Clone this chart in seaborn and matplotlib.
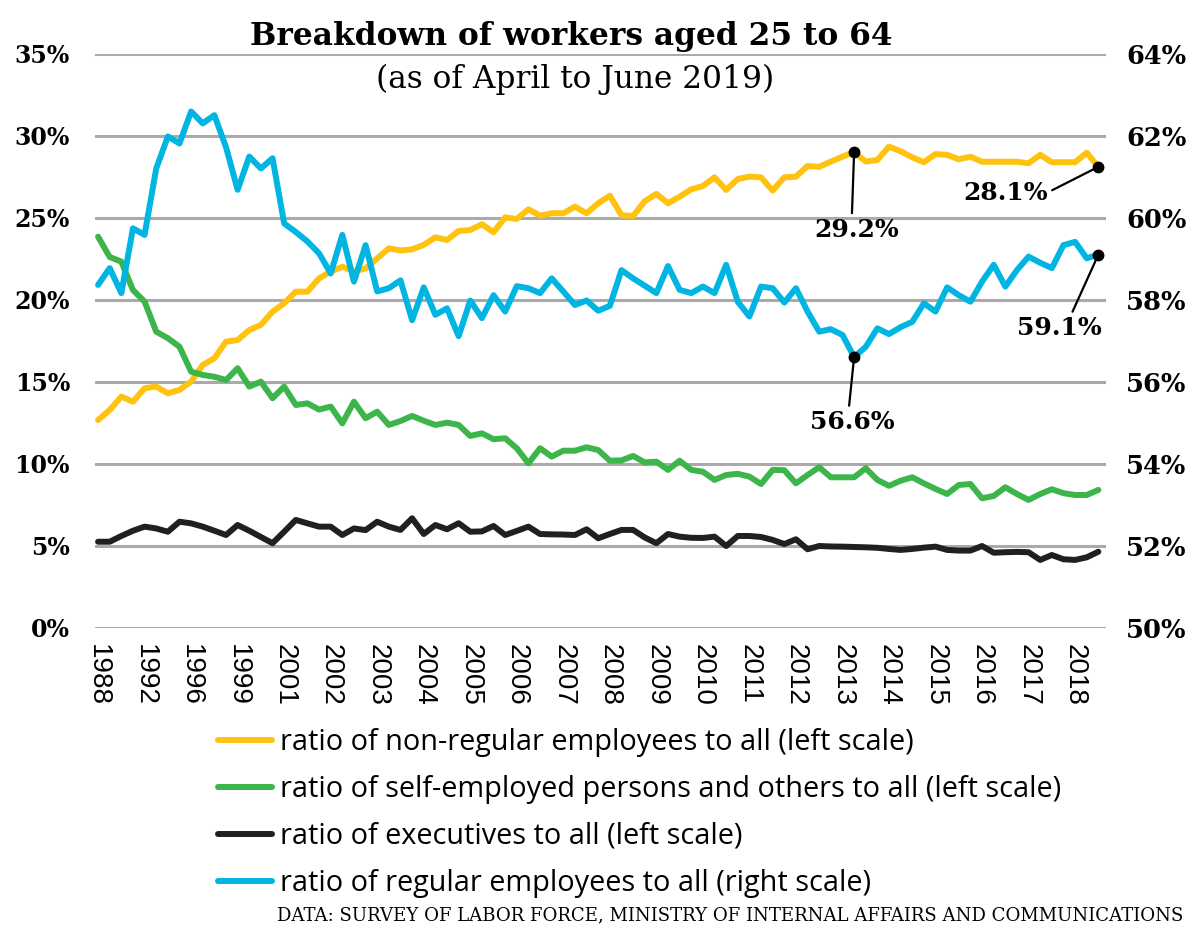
import numpy as np
import pandas as pd
import seaborn as sns
import matplotlib.pyplot as plt
from matplotlib.font_manager import FontProperties

# values, one point per survey period (87 points)
non_regular = [12.66, 13.27, 14.09, 13.78, 14.6, 14.7, 14.29, 14.5, 15.0, 16.02,
               16.43, 17.44, 17.54, 18.15, 18.46, 19.27, 19.78, 20.49, 20.49, 21.3,
               21.71, 22.01, 21.71, 21.91, 22.52, 23.13, 23.0, 23.07, 23.34, 23.8,
               23.64, 24.19, 24.25, 24.6, 24.11, 25.02, 24.92, 25.51, 25.12, 25.27,
               25.27, 25.67, 25.27, 25.88, 26.34, 25.15, 25.1, 26.0, 26.45, 25.88,
               26.28, 26.73, 26.93, 27.46, 26.69, 27.36, 27.5, 27.46, 26.65, 27.46,
               27.5, 28.15, 28.1, 28.42, 28.72, 29.0, 28.42, 28.52, 29.33, 29.05,
               28.68, 28.38, 28.88, 28.83, 28.56, 28.72, 28.41, 28.41, 28.41, 28.41,
               28.32, 28.83, 28.38, 28.38, 28.38, 28.96, 28.1]
self_employed = [23.84, 22.6, 22.32, 20.59, 19.88, 18.05, 17.65, 17.13, 15.61, 15.41,
                 15.3, 15.1, 15.82, 14.7, 15.0, 13.99, 14.7, 13.58, 13.68, 13.3,
                 13.48, 12.46, 13.78, 12.77, 13.17, 12.36, 12.6, 12.91, 12.62, 12.36,
                 12.5, 12.36, 11.69, 11.85, 11.49, 11.55, 10.94, 10.02, 10.94, 10.43,
                 10.79, 10.79, 11.0, 10.83, 10.18, 10.2, 10.47, 10.08, 10.12, 9.62,
                 10.18, 9.62, 9.51, 9.01, 9.31, 9.38, 9.21, 8.76, 9.62, 9.6,
                 8.8, 9.31, 9.78, 9.17, 9.17, 9.17, 9.72, 9.01, 8.65, 8.96,
                 9.17, 8.8, 8.46, 8.15, 8.7, 8.76, 7.89, 8.03, 8.56, 8.15,
                 7.79, 8.15, 8.44, 8.2, 8.09, 8.09, 8.4]
executives = [5.24, 5.24, 5.59, 5.91, 6.16, 6.05, 5.85, 6.46, 6.36, 6.16,
              5.91, 5.65, 6.26, 5.91, 5.53, 5.15, 5.85, 6.57, 6.36, 6.16,
              6.16, 5.65, 6.05, 5.95, 6.46, 6.16, 5.96, 6.67, 5.71, 6.26,
              6.0, 6.37, 5.85, 5.87, 6.2, 5.65, 5.9, 6.16, 5.71, 5.69,
              5.68, 5.65, 6.0, 5.45, 5.71, 5.96, 5.96, 5.5, 5.15, 5.71,
              5.55, 5.48, 5.47, 5.55, 4.98, 5.59, 5.59, 5.53, 5.35, 5.1,
              5.39, 4.78, 4.98, 4.95, 4.94, 4.92, 4.9, 4.87, 4.8, 4.74,
              4.8, 4.88, 4.94, 4.74, 4.7, 4.7, 4.98, 4.57, 4.6, 4.62,
              4.6, 4.13, 4.43, 4.17, 4.13, 4.29, 4.63]
regular = [58.36, 58.77, 58.16, 59.74, 59.58, 61.2, 61.98, 61.81, 62.59, 62.3,
           62.5, 61.72, 60.68, 61.49, 61.2, 61.45, 59.86, 59.65, 59.42, 59.13,
           58.64, 59.58, 58.44, 59.33, 58.2, 58.28, 58.47, 57.5, 58.3, 57.63,
           57.79, 57.11, 57.98, 57.55, 58.11, 57.71, 58.33, 58.28, 58.16, 58.52,
           58.2, 57.87, 57.98, 57.73, 57.85, 58.72, 58.52, 58.34, 58.16, 58.82,
           58.24, 58.16, 58.32, 58.16, 58.85, 57.95, 57.59, 58.32, 58.28, 57.93,
           58.28, 57.71, 57.22, 57.28, 57.14, 56.6, 56.85, 57.3, 57.16, 57.33,
           57.46, 57.91, 57.71, 58.3, 58.11, 57.95, 58.44, 58.85, 58.32, 58.72,
           59.05, 58.9, 58.77, 59.33, 59.41, 59.01, 59.1]

year_labels = ['1988', '1992', '1996', '1999', '2001', '2002', '2003', '2004',
               '2005', '2006', '2007', '2008', '2009', '2010', '2011', '2012',
               '2013', '2014', '2015', '2016', '2017', '2018']

series_names = ['ratio of non-regular employees to all (left scale)',
                'ratio of self-employed persons and others to all (left scale)',
                'ratio of executives to all (left scale)',
                'ratio of regular employees to all (right scale)']
colors = ['#fec20f', '#3cb54a', '#231f20', '#00b5e2']

df = pd.DataFrame({'period': np.arange(len(regular)),
                   'non_regular': non_regular,
                   'self_employed': self_employed,
                   'executives': executives,
                   'regular': regular})

sns.set_theme(style='white')
plt.rcParams['font.family'] = ['DejaVu Serif']
plt.rcParams['text.color'] = 'black'
plt.rcParams['xtick.color'] = 'black'
plt.rcParams['ytick.color'] = 'black'

fig = plt.figure(figsize=(12, 9.5), dpi=100)
ax = fig.add_axes([0.0792, 0.3393, 0.8425, 0.6042])
ax2 = ax.twinx()

lw = 4.3
left_cols = ['non_regular', 'self_employed', 'executives']
handles = []
for col, c in zip(left_cols, colors[:3]):
    sns.lineplot(data=df, x='period', y=col, ax=ax, color=c, linewidth=lw)
    handles.append(ax.lines[-1])
sns.lineplot(data=df, x='period', y='regular', ax=ax2, color=colors[3], linewidth=lw)
handles.append(ax2.lines[-1])

ax.set_ylim(0, 35)
ax2.set_ylim(50, 64)
ax.set_xlim(-0.26, len(regular) - 1 + 0.66)
ax.set_yticks(np.arange(0, 36, 5))
ax2.set_yticks(np.arange(50, 65, 2))
ax.set_yticklabels([f'{v}%' for v in range(0, 36, 5)])
ax2.set_yticklabels([f'{v}%' for v in range(50, 65, 2)])
ax.set_xticks(np.arange(0, 4 * len(year_labels), 4))
ax.set_xticklabels(year_labels, rotation=270, fontfamily='Liberation Sans',
                   fontsize=20, va='top', ha='center')

ax.yaxis.grid(True, color='#aaaaaa', linewidth=2.2)
ax.set_axisbelow(True)
for a in (ax, ax2):
    for s in a.spines.values():
        s.set_visible(False)
    a.set_xlabel('')
    a.set_ylabel('')
ax.tick_params(axis='y', length=0, pad=18, labelsize=17)
ax2.tick_params(axis='y', length=0, pad=14.5, labelsize=18.5)
ax.tick_params(axis='x', length=0, pad=12)
for lab in ax.get_yticklabels() + ax2.get_yticklabels():
    lab.set_fontweight('bold')

# callouts
last = len(regular) - 1
low = int(np.argmin(regular[40:])) + 40
notes = [(ax, low, non_regular[low], '29.2%', (2, -56), (0.44, 1.0)),
         (ax2, low, regular[low], '56.6%', (-1.5, -47), (0.46, 1.0)),
         (ax, last, non_regular[last], '28.1%', (-67, -18.5), (1.0, 0.5)),
         (ax2, last, regular[last], '59.1%', (-28, -53), (0.63, 1.0))]
for a, xi, yi, txt, off, rel in notes:
    a.plot([xi], [yi], 'o', color='black', markersize=7.5, zorder=5)
    a.annotate(txt, xy=(xi, yi), xytext=off, textcoords='offset points',
               ha='center', va='center', fontsize=18, fontweight='bold',
               arrowprops=dict(arrowstyle='-', color='black', lw=1.6,
                               relpos=rel, shrinkA=1, shrinkB=0))

fig.text(0.476, 1 - 36 / 950, 'Breakdown of workers aged 25 to 64',
         ha='center', va='center', fontsize=22.5, fontweight='bold')
fig.text(0.479, 1 - 79 / 950, '(as of April to June 2019)',
         ha='center', va='center', fontsize=22.5)

fig.legend(handles, series_names, loc='upper left',
           bbox_to_anchor=(218 / 1200, 1 - 728 / 950), frameon=False,
           prop=FontProperties(family='Open Sans', size=20.8),
           handlelength=1.86, handletextpad=0.28, labelspacing=0.62,
           borderpad=0, borderaxespad=0)

fig.text(1183 / 1200, 1 - 915 / 950,
         'DATA: SURVEY OF LABOR FORCE, MINISTRY OF INTERNAL AFFAIRS AND COMMUNICATIONS',
         ha='right', va='center', fontsize=13.1)

fig.savefig('out.png', dpi=100)
